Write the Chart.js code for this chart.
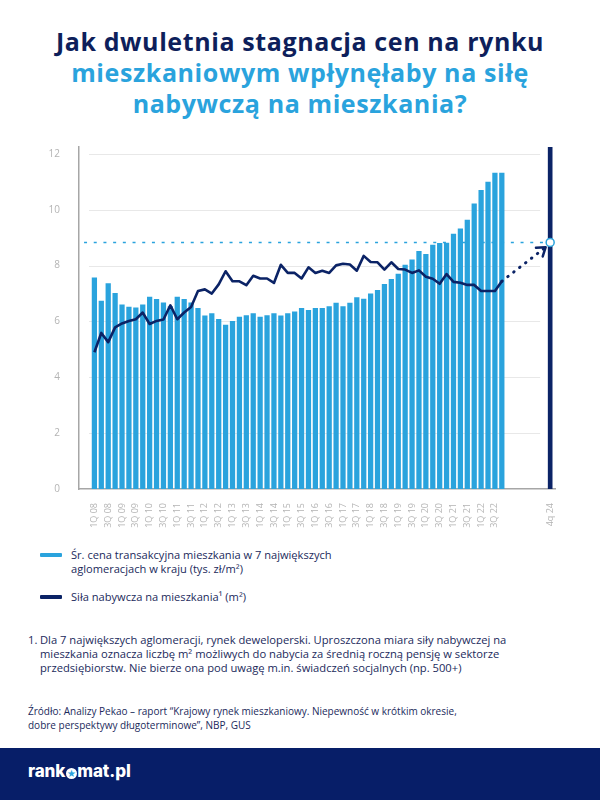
<!DOCTYPE html>
<html lang="pl">
<head>
<meta charset="utf-8">
<title>Siła nabywcza na mieszkania</title>
<script src="https://cdn.jsdelivr.net/npm/chart.js@4.4.1/dist/chart.umd.min.js"></script>
<style>
  body { margin: 0; width: 600px; height: 800px; background: #fff; position: relative; overflow: hidden; font-family: "Open Sans", sans-serif; color: #1b2a5c; }
  .tytul { position: absolute; left: 0; top: 26px; width: 600px; margin: 0; text-align: center; font-weight: 700; font-size: 25px; letter-spacing: 0.6px; line-height: 31px; color: #2aa3dd; }
  .tytul .ciemny { color: #0e1f5b; }
  #wykres { position: absolute; left: 0; top: 130px; }
  .legenda { position: absolute; left: 71px; font-size: 11.1px; line-height: 14px; color: #1b2a5c; }
  .legenda::before { content: ""; position: absolute; left: -31px; top: 5px; width: 22px; height: 4px; border-radius: 1px; }
  .l1::before { background: #2aa3dd; }
  .l2::before { background: #0b2366; }
  .przypis { position: absolute; left: 28px; top: 633px; font-size: 11.2px; line-height: 13.8px; color: #1b2a5c; padding-left: 12px; white-space: nowrap; }
  .przypis b { position: absolute; left: 0; font-weight: 400; }
  .zrodlo { position: absolute; left: 28px; top: 705px; font-size: 10px; line-height: 13.5px; color: #1b2a5c; white-space: nowrap; }
  .stopka { position: absolute; left: 0; top: 748px; width: 600px; height: 52px; background: #071e68; }
  .logo { position: absolute; left: 28px; top: 13px; font-family: "Inter", sans-serif; font-weight: 800; font-size: 17px; color: #fff; letter-spacing: -0.1px; }
  .logo i { display: inline-block; width: 11px; height: 11px; border-radius: 50%; background: #fff; color: #2aa3dd; font-style: normal; font-size: 9px; line-height: 11px; text-align: center; vertical-align: 0px; margin: 0 0.5px; }
</style>
</head>
<body>
<h1 class="tytul"><span class="ciemny">Jak dwuletnia stagnacja cen na rynku</span><br>mieszkaniowym wpłynęłaby na siłę<br>nabywczą na mieszkania?</h1>

<canvas id="wykres" width="600" height="410"></canvas>

<div class="legenda l1" style="top:548px">Śr. cena transakcyjna mieszkania w 7 największych<br>aglomeracjach w kraju (tys. zł/m²)</div>
<div class="legenda l2" style="top:590px">Siła nabywcza na mieszkania¹ (m²)</div>

<div class="przypis"><b>1.</b>Dla 7 największych aglomeracji, rynek deweloperski. Uproszczona miara siły nabywczej na<br>mieszkania oznacza liczbę m² możliwych do nabycia za średnią roczną pensję w sektorze<br>przedsiębiorstw. Nie bierze ona pod uwagę m.in. świadczeń socjalnych (np. 500+)</div>

<div class="zrodlo">Źródło: Analizy Pekao – raport “Krajowy rynek mieszkaniowy. Niepewność w krótkim okresie,<br>dobre perspektywy długoterminowe”, NBP, GUS</div>

<div class="stopka"><div class="logo">rank<i>★</i>mat.pl</div></div>

<script>
// kwartały 1Q 08 - 4Q 22
const kwartaly = [
  '1Q 08', '2Q 08', '3Q 08', '4Q 08', '1Q 09', '2Q 09', '3Q 09', '4Q 09',
  '1Q 10', '2Q 10', '3Q 10', '4Q 10', '1Q 11', '2Q 11', '3Q 11', '4Q 11',
  '1Q 12', '2Q 12', '3Q 12', '4Q 12', '1Q 13', '2Q 13', '3Q 13', '4Q 13',
  '1Q 14', '2Q 14', '3Q 14', '4Q 14', '1Q 15', '2Q 15', '3Q 15', '4Q 15',
  '1Q 16', '2Q 16', '3Q 16', '4Q 16', '1Q 17', '2Q 17', '3Q 17', '4Q 17',
  '1Q 18', '2Q 18', '3Q 18', '4Q 18', '1Q 19', '2Q 19', '3Q 19', '4Q 19',
  '1Q 20', '2Q 20', '3Q 20', '4Q 20', '1Q 21', '2Q 21', '3Q 21', '4Q 21',
  '1Q 22', '2Q 22', '3Q 22', '4Q 22'
];

// średnia cena transakcyjna (tys. zł/m2)
const cenaMieszkan = [
  7.56, 6.73, 7.36, 7.01, 6.60, 6.52, 6.49, 6.60, 6.87, 6.79, 6.67, 6.53, 6.87, 6.79, 6.67,
  6.47, 6.20, 6.28, 6.08, 5.87, 6.01, 6.16, 6.21, 6.28, 6.16, 6.21, 6.28, 6.20, 6.28, 6.35,
  6.47, 6.40, 6.47, 6.47, 6.53, 6.66, 6.53, 6.66, 6.86, 6.80, 6.99, 7.12, 7.33, 7.51, 7.70,
  8.02, 8.21, 8.51, 8.41, 8.74, 8.80, 8.81, 9.13, 9.32, 9.63, 10.21, 10.70, 10.99, 11.32, 11.32
];

// siła nabywcza (m2)
const silaNabywcza = [
  4.90, 5.59, 5.26, 5.79, 5.93, 6.02, 6.08, 6.32, 5.91, 6.02, 6.07, 6.58, 6.08, 6.32, 6.52,
  7.09, 7.15, 7.00, 7.33, 7.80, 7.44, 7.44, 7.30, 7.64, 7.54, 7.54, 7.38, 8.03, 7.74, 7.74,
  7.54, 7.94, 7.74, 7.82, 7.74, 8.01, 8.07, 8.04, 7.82, 8.35, 8.13, 8.12, 7.86, 8.12, 7.88,
  7.86, 7.74, 7.83, 7.60, 7.53, 7.35, 7.70, 7.42, 7.39, 7.31, 7.31, 7.09, 7.09, 7.09, 7.44
];

// prognoza przy dwuletniej stagnacji cen
const prognozaEtykieta = '4q 24';
const prognozaOdstep = 7;   // odstęp od ostatniego kwartału, jak na rysunku
const prognozaSila = 8.83;
const grotStrzalki = 8.66;

const osY = [0, 2, 4, 6, 8, 10, 12];
const osYmax = 12.25;

const NIEBIESKI = '#2aa3dd';
const GRANAT = '#0b2366';
const SZARY = '#b4b4b4';

const ostatni = kwartaly.length - 1;
const prognozaKwartal = ostatni + prognozaOdstep;

Chart.defaults.font.family = '"Open Sans", sans-serif';

// etykiety osi X: co drugi kwartał + prognoza
const pozycjeX = [];
const etykietyX = {};
kwartaly.forEach(function (k, i) {
  if (i % 2 === 0) { pozycjeX.push(i); etykietyX[i] = k; }
});
pozycjeX.push(prognozaKwartal);
etykietyX[prognozaKwartal] = prognozaEtykieta;

const dodatki = {
  id: 'dodatki',
  beforeDatasetsDraw(chart) {
    // linie siatki (krótsze niż obszar wykresu)
    const { ctx, chartArea, scales: { x, y } } = chart;
    const x0 = chartArea.left + 10;
    const x1 = x.getPixelForValue(prognozaKwartal) - 10;
    ctx.save();
    ctx.strokeStyle = '#e8e8e8';
    ctx.lineWidth = 1;
    osY.forEach(function (v) {
      if (v === 0) return;
      const py = Math.round(y.getPixelForValue(v)) + 0.5;
      ctx.beginPath();
      ctx.moveTo(x0, py);
      ctx.lineTo(x1, py);
      ctx.stroke();
    });
    ctx.restore();
  },
  afterDatasetsDraw(chart) {
    // grot strzałki
    const { ctx } = chart;
    const pkt = chart.getDatasetMeta(3).data;
    const a = pkt[0], b = pkt[pkt.length - 1];
    const kat = Math.atan2(b.y - a.y, b.x - a.x);
    ctx.save();
    ctx.translate(b.x, b.y);
    ctx.rotate(kat);
    ctx.beginPath();
    ctx.moveTo(-8, -5.5);
    ctx.lineTo(0, 0);
    ctx.lineTo(-8, 5.5);
    ctx.strokeStyle = GRANAT;
    ctx.lineWidth = 2.5;
    ctx.lineCap = 'round';
    ctx.lineJoin = 'round';
    ctx.stroke();
    ctx.restore();
  }
};

new Chart(document.getElementById('wykres'), {
  type: 'bar',
  data: {
    datasets: [
      {
        type: 'line',
        data: silaNabywcza.map((v, i) => ({ x: i, y: v })),
        borderColor: GRANAT,
        borderWidth: 2.6,
        borderJoinStyle: 'round',
        pointRadius: 0,
        tension: 0,
        order: 0
      },
      {
        type: 'bar',
        data: cenaMieszkan.map((v, i) => ({ x: i, y: v })),
        backgroundColor: NIEBIESKI,
        barThickness: 4.6,
        grouped: false,
        order: 3
      },
      {
        type: 'bar',
        data: [{ x: prognozaKwartal, y: osYmax }],
        backgroundColor: GRANAT,
        barThickness: 4,
        grouped: false,
        order: 3
      },
      {
        type: 'line',
        data: [
          { x: ostatni, y: silaNabywcza[ostatni] },
          { x: prognozaKwartal - 0.65, y: grotStrzalki }
        ],
        borderColor: GRANAT,
        borderWidth: 3,
        borderDash: [0.5, 7],
        borderCapStyle: 'round',
        pointRadius: 0,
        order: 1
      },
      {
        type: 'line',
        data: [{ x: -1.5, y: prognozaSila }, { x: prognozaKwartal, y: prognozaSila }],
        borderColor: NIEBIESKI,
        borderWidth: 1.6,
        borderDash: [3, 6.7],
        pointRadius: [0, 4],
        pointBackgroundColor: '#fff',
        pointBorderColor: NIEBIESKI,
        pointBorderWidth: 1.5,
        clip: false,
        order: 0
      },
      {
        type: 'line',
        data: [{ x: prognozaKwartal, y: prognozaSila }],
        pointRadius: 1.3,
        pointBackgroundColor: NIEBIESKI,
        pointBorderWidth: 0,
        showLine: false,
        clip: false,
        order: 0
      }
    ]
  },
  options: {
    responsive: false,
    animation: false,
    layout: { padding: { top: 13, right: 45, left: 0, bottom: 0 } },
    plugins: { legend: { display: false }, tooltip: { enabled: false } },
    scales: {
      x: {
        type: 'linear',
        min: -2.23,
        max: prognozaKwartal + 0.7,
        offset: false,
        grid: { display: false },
        border: { color: '#a6a6a6', width: 1.5 },
        afterBuildTicks: function (s) { s.ticks = pozycjeX.map(v => ({ value: v })); },
        afterFit: function (s) { s.height = 51; },
        ticks: {
          autoSkip: false,
          maxRotation: 90,
          minRotation: 90,
          padding: 6,
          color: SZARY,
          font: { size: 9 },
          callback: function (v) { return etykietyX[v] || ''; }
        }
      },
      y: {
        min: 0,
        max: osYmax,
        grid: { display: false },
        border: { color: '#a6a6a6', width: 1.5 },
        afterBuildTicks: function (s) { s.ticks = osY.map(v => ({ value: v })); },
        afterFit: function (s) { s.width = 79; },
        ticks: { padding: 11, color: SZARY, font: { size: 10 } }
      }
    }
  },
  plugins: [dodatki]
});
</script>
</body>
</html>
